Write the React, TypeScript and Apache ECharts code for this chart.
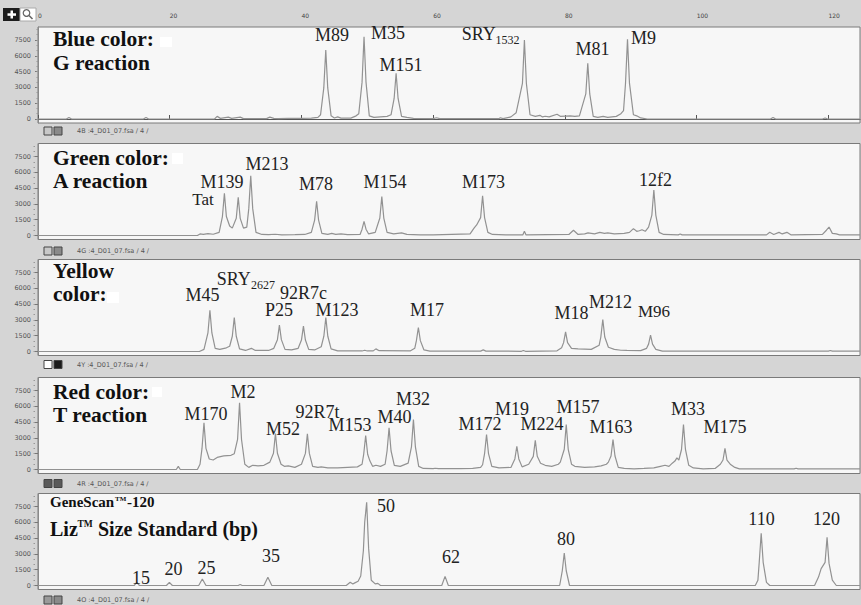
import React, { useEffect, useRef } from "react";
import * as echarts from "echarts";

// ---------- data ----------
const rulerTicks = [0, 20, 40, 60, 80, 100, 120];
const yTicks = [0, 1500, 3000, 4500, 6000, 7500];
const yMinorTicks = [0, 500, 1000, 1500, 2000, 2500, 3000, 3500, 4000, 4500, 5000, 5500, 6000, 6500, 7000, 7500, 8000, 8500];

const blueTrace: number[][] = [
  [0, 0], [4.3, 0], [4.7, 150], [5.1, 0], [16.0, 0], [16.4, 150], [16.8, 0],
  [26.8, 0], [27.2, 250], [27.7, 60], [28.9, 180], [29.4, 60], [30.7, 180], [31.2, 40],
  [34.7, 40], [35.2, 180], [35.8, 60], [36.5, 40], [38, 60], [40, 50], [41.5, 80],
  [42.5, 150], [42.9, 400], [43.39, 2950], [43.69, 6550], [43.99, 2950], [44.5, 300], [45.0, 100], [45.5, 200], [46, 80], [47.5, 80], [48.3, 300],
  [48.7, 500], [49.2, 3500], [49.5, 7800], [49.8, 3500], [50.3, 300], [51, 150], [52, 200], [53, 250], [53.6, 400],
  [54.07, 1950], [54.37, 4340], [54.67, 1950], [55.2, 250], [56, 150], [57, 60], [60, 40], [60.5, 120], [61, 40],
  [70, 40], [70.2, 120], [70.6, 40], [71.8, 200], [72.6, 600],
  [73.55, 3375], [73.85, 7500], [74.15, 3375], [74.7, 400], [75.5, 250], [76.2, 350], [76.6, 200], [77, 260], [77.6, 200], [78.8, 450], [79.3, 250], [80.8, 300], [81.5, 250], [82.2, 300],
  [83.17, 2380], [83.47, 5290], [83.77, 2380], [84.3, 250], [85, 150], [85.8, 250], [86.5, 150], [87.8, 250], [88.5, 500], [88.9, 800],
  [89.2, 3400], [89.5, 7570], [89.8, 3400], [90.4, 400], [90.9, 300], [91.5, 100], [92.5, 0],
  [111.2, 0], [111.6, 150], [112, 0], [119.1, 0], [119.5, 100], [119.9, 0], [124.8, 0],
];

const greenTrace: number[][] = [
  [0, 0], [24.2, 0], [24.6, 150], [25.1, 100], [25.8, 180], [26.6, 120], [27.5, 300],
  [28.0, 1800], [28.3, 4000], [28.6, 1800], [29.1, 900], [29.5, 700],
  [30.1, 1630], [30.4, 3630], [30.7, 1630], [31.2, 700], [31.7, 800],
  [32.0, 2550], [32.3, 5680], [32.6, 2550], [33.1, 300], [34, 100], [35, 80], [36, 120], [37, 60], [39, 80], [40.5, 100], [41.5, 300],
  [42.0, 1460], [42.3, 3250], [42.6, 1460], [43.1, 200], [44, 100], [44.6, 200], [45.2, 100], [46, 150], [47, 80], [48.9, 100],
  [49.2, 600], [49.5, 1350], [49.8, 600], [50.2, 150], [51.2, 300],
  [51.9, 1660], [52.2, 3690], [52.5, 1660], [53.0, 300], [54, 150], [55.2, 250], [56, 100], [58, 60], [60, 60], [65.6, 150], [66.2, 700], [66.6, 1000],
  [67.2, 1700], [67.5, 3780], [67.8, 1700], [68.3, 300], [69, 100], [71, 60], [73.6, 50], [73.85, 400], [74.1, 50],
  [80.6, 100], [81.3, 500], [82, 100], [83, 150], [83.5, 250], [84.5, 150], [85.3, 300], [86, 200], [86.5, 250], [87.5, 150], [89, 200], [89.8, 300], [90.4, 650], [90.9, 400], [91.3, 450], [91.7, 550], [92.2, 400], [92.7, 800],
  [93.2, 1940], [93.5, 4320], [93.8, 1940], [94.3, 300], [95, 100], [97.2, 60], [97.5, 150], [97.8, 60], [110.6, 60], [111.1, 300], [111.7, 100], [112.5, 300], [113.0, 150], [113.7, 300], [114.3, 60],
  [119.1, 100], [119.7, 500], [120.1, 800], [120.6, 200], [121.2, 150], [121.7, 60], [124.8, 60],
];

const yellowTrace: number[][] = [
  [0, 0], [24.5, 0], [25.2, 200],
  [25.8, 1760], [26.1, 3920], [26.4, 1760], [26.9, 300], [27.6, 200], [28.6, 350], [29.1, 500],
  [29.5, 1450], [29.8, 3230], [30.1, 1450], [30.6, 250], [31.5, 100], [32.4, 300], [33, 100], [35, 100], [35.8, 300],
  [36.35, 1125], [36.65, 2500], [36.95, 1125], [37.5, 200], [38.5, 150], [39.5, 300],
  [40.0, 1085], [40.3, 2410], [40.6, 1085], [41.1, 200], [42, 150], [43.0, 450],
  [43.4, 1450], [43.7, 3230], [44.0, 1450], [44.5, 250], [45.5, 60], [49.2, 50], [49.6, 120], [50, 50], [50.9, 60], [51.3, 250], [51.8, 80], [56.5, 50], [57.2, 300],
  [57.45, 1030], [57.75, 2280], [58.05, 1030], [58.6, 150], [59.5, 40], [67.2, 40], [67.6, 150], [68.0, 40], [73.4, 20], [73.7, 100], [74.0, 20],
  [78.8, 60], [79.5, 350], [79.8, 840], [80.1, 1870], [80.4, 840], [81, 300], [82, 250], [84, 200], [85.2, 600],
  [85.45, 1370], [85.75, 3040], [86.05, 1370], [86.6, 400], [87.5, 200], [88.5, 120], [89.4, 100], [91.5, 80], [92.4, 300],
  [92.7, 700], [93.0, 1550], [93.3, 700], [93.8, 200], [94.8, 40], [120, 40], [120.3, 100], [120.6, 40], [124.8, 40],
];

const redTrace: number[][] = [
  [0, 0], [21.0, 0], [21.3, 300], [21.6, 0], [24.2, 0], [24.6, 500],
  [24.9, 2000], [25.2, 4430], [25.5, 2000], [26.0, 1000], [26.6, 900], [27.2, 1150], [28.2, 1300], [29.3, 1350], [29.8, 1500],
  [30.3, 2850], [30.6, 6330], [30.9, 2850], [31.4, 500], [32.0, 200], [32.6, 400], [33.4, 350], [34.3, 400], [35.2, 700],
  [35.75, 1540], [36.05, 3420], [36.35, 1540], [36.9, 500], [37.4, 300], [38, 350], [39, 200], [40.0, 500],
  [40.6, 1530], [40.9, 3390], [41.2, 1530], [41.7, 300], [42.5, 200], [43, 250], [44, 150], [45.5, 150], [47, 200], [48.5, 250], [49.2, 500],
  [49.45, 1450], [49.75, 3230], [50.05, 1450], [50.4, 800], [50.8, 300], [51.3, 400], [52, 300], [52.7, 500],
  [53.0, 1780], [53.3, 3960], [53.6, 1780], [54.1, 400], [55, 300], [56.2, 600],
  [56.7, 2140], [57.0, 4750], [57.3, 2140], [57.8, 300], [58.5, 100], [60, 80], [60.3, 120], [60.8, 80], [64, 80], [66, 100], [67.2, 200], [67.5, 450],
  [67.8, 1500], [68.1, 3320], [68.4, 1500], [68.9, 300], [70, 150], [71.8, 200], [72.4, 1000], [72.7, 2210], [73.0, 1000], [73.5, 250], [74.5, 500],
  [75.2, 1250], [75.5, 2780], [75.8, 1250], [76.3, 600], [77, 400], [78, 300], [79.0, 500], [79.3, 700],
  [79.9, 1920], [80.2, 4270], [80.5, 1920], [81, 500], [81.5, 300], [83, 200], [84.5, 250], [85.5, 350], [86.3, 500], [86.6, 700],
  [87.0, 1280], [87.3, 2850], [87.6, 1280], [88.1, 200], [89, 100], [90.5, 60], [92, 100], [93.5, 150], [94.5, 300], [95.2, 400], [95.8, 300], [96.3, 600], [96.7, 800], [97.0, 1100], [97.3, 900],
  [97.7, 1900], [98.0, 4270], [98.3, 1900], [98.8, 400], [99.5, 150], [101, 60], [102.8, 100], [103.6, 500],
  [104.0, 900], [104.3, 2000], [104.6, 900], [105.1, 500], [105.8, 200], [106.5, 60], [114.8, 60], [115.1, 120], [115.4, 60], [124.8, 60],
];

const sizeStdTrace: number[][] = [
  [0, 0], [14.6, 0], [15.0, 300], [15.4, 0], [19.5, 0], [19.95, 300], [20.4, 0], [24.4, 0], [24.95, 620], [25.5, 0],
  [30.4, 0], [30.7, 100], [31.0, 0], [34.3, 0], [34.9, 780], [35.5, 0],
  [46.8, 0], [47.4, 300], [47.8, 150], [48.1, 250], [48.6, 400], [49.0, 900], [49.4, 3300], [49.6, 6000], [49.9, 7900], [50.2, 3500], [50.6, 500], [51.2, 150], [51.6, 200], [52, 0],
  [61.3, 0], [61.8, 870], [62.3, 0],
  [79.2, 0], [79.6, 1400], [79.9, 3090], [80.2, 1400], [80.7, 0],
  [108.9, 0], [109.3, 500], [109.5, 2200], [109.8, 4960], [110.1, 2200], [110.6, 300], [111.1, 0],
  [117.9, 0], [118.5, 800], [118.9, 1600], [119.5, 2200], [119.8, 4580], [120.1, 2100], [120.6, 500], [121.2, 0], [124.8, 0],
];

const traces = [blueTrace, greenTrace, yellowTrace, redTrace, sizeStdTrace];
const dyeCodes = ["4B", "4G", "4Y", "4R", "4O"];
const sampleFile = "4_D01_07.fsa";

const panelTitles = [
  ["Blue color:", "G reaction"],
  ["Green color:", "A reaction"],
  ["Yellow", "color:"],
  ["Red color:", "T reaction"],
];

// peak labels (text, font size) with their pixel centres
const peakLabels: [string, number, number, number][] = [
  ["M89", 332, 34.5, 18], ["M35", 388, 32.5, 18], ["M151", 401, 65, 18], ["M81", 592.5, 48.5, 18], ["M9", 643.5, 37.5, 18],
  ["M213", 267, 164, 18], ["M139", 222, 181.5, 18], ["Tat", 203, 199.5, 17], ["M78", 316, 183.5, 18], ["M154", 385, 182, 18], ["M173", 483.5, 182, 18], ["12f2", 655.5, 179.5, 18],
  ["M45", 202.5, 295, 18], ["92R7c", 303.5, 292.5, 18], ["P25", 279, 310, 18], ["M123", 337, 310, 18], ["M17", 427, 310, 18], ["M18", 571.5, 313, 18], ["M212", 610.5, 301.5, 18], ["M96", 654, 311.5, 17],
  ["M170", 206, 413.5, 18], ["M2", 243, 391.5, 18], ["M52", 283, 429, 18], ["92R7t", 317.5, 411.5, 18], ["M153", 350, 425, 18], ["M40", 394.5, 416.5, 18], ["M32", 413, 398.5, 18],
  ["M172", 480, 423.5, 18], ["M19", 512, 408.5, 18], ["M224", 542, 423.5, 18], ["M157", 578, 406.5, 18], ["M163", 611, 427, 18], ["M33", 688, 408.5, 18], ["M175", 725, 427, 18],
  ["15", 141, 577.5, 18], ["20", 173.5, 569, 18], ["25", 206.5, 567.5, 18], ["35", 271, 556, 18], ["50", 386, 506, 18], ["62", 451, 557, 18], ["80", 566, 538.5, 18], ["110", 761.5, 519, 18], ["120", 826.5, 519, 18],
];
// subscripted labels: [main, sub, x(left), y, subX, subY]
const subLabels: [string, string, number, number, number, number][] = [
  ["SRY", "1532", 461.7, 34.2, 495.5, 39.5],
  ["SRY", "2627", 216.7, 279, 251, 284.5],
];

// ---------- layout ----------
const PANEL_TOPS = [27, 143.5, 259.5, 377.5, 493.5];
const PANEL_H = 96;
const BASE_OFF = 92;
const PX_PER_RFU = 79 / 7500;
const Y_MAX = BASE_OFF / PX_PER_RFU;
const Y_MIN = -(PANEL_H - BASE_OFF) / PX_PER_RFU;
const X_MAX = 124.8;
const FOOTER_Y = [131, 251, 364.5, 483.5, 600];
const TITLE_Y = [[39, 62.5], [157.5, 181], [271, 294], [391.5, 414.5]];
const WHITE_PATCHES = [[160, 37, 12, 10], [172, 153, 11, 11], [107, 292, 12, 11], [152, 387, 10, 10]];
const ICON_FILLS = [["#c8c8c8", "#8a8a8a"], ["#c8c8c8", "#8a8a8a"], ["#ffffff", "#1a1a1a"], ["#5a5a5a", "#5a5a5a"], ["#9a9a9a", "#8a8a8a"]];

const SERIF = '"Liberation Serif", "Times New Roman", serif';
const SANS = '"DejaVu Sans", sans-serif';

function buildOption() {
  const grid = PANEL_TOPS.map((t) => ({
    left: 38, right: 1, top: t, height: PANEL_H, show: true,
    backgroundColor: "#f7f7f7", borderColor: "#7a7a7a", borderWidth: 1,
  }));
  const xAxis: any[] = PANEL_TOPS.map((_, i) => ({
    type: "value", gridIndex: i, min: 0, max: X_MAX, show: false,
  }));
  xAxis.push({
    type: "value", gridIndex: 0, position: "top", offset: 6, min: 0, max: X_MAX,
    axisLine: { show: true, lineStyle: { color: "#555", width: 1 } },
    axisTick: { show: true, customValues: rulerTicks, length: 4, lineStyle: { color: "#555" } },
    axisLabel: { customValues: rulerTicks, fontSize: 6, color: "#444", align: "left", margin: 3, fontFamily: SANS, formatter: (v: number) => String(v) },
    splitLine: { show: false },
  });
  const yAxis: any[] = [];
  PANEL_TOPS.forEach((_, i) => {
    yAxis.push({
      type: "value", gridIndex: i, position: "left", min: Y_MIN, max: Y_MAX, offset: 3,
      axisLine: { show: true, lineStyle: { color: "#8a8a8a" } },
      axisTick: { show: true, customValues: yTicks, length: 3, lineStyle: { color: "#777" } },
      axisLabel: { customValues: yTicks, fontSize: 6.5, color: "#555", margin: 4, padding: [0, 0, 5, 0], fontFamily: SANS, formatter: (v: number) => String(v) },
      splitLine: { show: false },
    });
    yAxis.push({
      type: "value", gridIndex: i, position: "left", min: Y_MIN, max: Y_MAX, offset: 3,
      axisLine: { show: false },
      axisTick: { show: true, customValues: yMinorTicks, length: 1.5, lineStyle: { color: "#999" } },
      axisLabel: { show: false },
      splitLine: { show: false },
    });
  });
  const series = traces.map((d, i) => ({
    type: "line", xAxisIndex: i, yAxisIndex: 2 * i, data: d,
    showSymbol: false, symbol: "none", silent: true, z: 3,
    lineStyle: { color: "#929292", width: 1.2 },
  }));

  const g: any[] = [];
  // top-left tool icons
  g.push({ type: "rect", shape: { x: 3, y: 8, width: 17, height: 13 }, style: { fill: "#1c1c1c" } });
  g.push({ type: "rect", shape: { x: 10.5, y: 10.5, width: 2.5, height: 8 }, style: { fill: "#fff" } });
  g.push({ type: "rect", shape: { x: 7.5, y: 13.3, width: 8.5, height: 2.5 }, style: { fill: "#fff" } });
  g.push({ type: "rect", shape: { x: 20, y: 8, width: 16, height: 13 }, style: { fill: "#fff", stroke: "#aaa", lineWidth: 1 } });
  g.push({ type: "circle", shape: { cx: 26.5, cy: 13, r: 3.3 }, style: { fill: "none", stroke: "#666", lineWidth: 1.2 } });
  g.push({ type: "line", shape: { x1: 29, y1: 15.5, x2: 32.5, y2: 19 }, style: { stroke: "#666", lineWidth: 1.6 } });

  const bold = (text: string, x: number, y: number, size: number, lh?: number) => ({ type: "text", x, y, z: 10,
    style: { text, fill: "#111", fontSize: size, lineHeight: lh || size, fontWeight: "bold", fontFamily: SERIF, align: "left", verticalAlign: "middle" } });

  // titles
  panelTitles.forEach((lines, i) => {
    lines.forEach((txt, j) => g.push(bold(txt, 53, TITLE_Y[i][j], 21.5, 19)));
  });
  WHITE_PATCHES.forEach(([x, y, w, h]) => g.push({ type: "rect", z: 9, shape: { x, y, width: w, height: h }, style: { fill: "#ffffff" } }));
  // size standard title
  g.push(bold("GeneScan", 50, 502, 15));
  g.push(bold("TM", 115, 498.5, 7));
  g.push(bold("-120", 127, 502, 15));
  g.push(bold("Liz", 50, 528.5, 20, 18));
  g.push(bold("TM", 77.5, 524, 9.5));
  g.push(bold("Size Standard (bp)", 98, 528.5, 20, 18));

  // peak labels
  peakLabels.forEach(([t, x, y, fs]) => g.push({ type: "text", x, y, z: 10,
    style: { text: t, fill: "#222", fontSize: fs, lineHeight: 14, fontFamily: SERIF, align: "center", verticalAlign: "middle" } }));
  subLabels.forEach(([m, s, x, y, sx, sy]) => {
    g.push({ type: "text", x, y, z: 10, style: { text: m, fill: "#222", fontSize: 18, lineHeight: 14, fontFamily: SERIF, align: "left", verticalAlign: "middle" } });
    g.push({ type: "text", x: sx, y: sy, z: 10, style: { text: s, fill: "#222", fontSize: 12, lineHeight: 10, fontFamily: SERIF, align: "left", verticalAlign: "middle" } });
  });

  // footers
  dyeCodes.forEach((code, i) => {
    const fy = FOOTER_Y[i];
    g.push({ type: "rect", shape: { x: 44, y: fy - 4, width: 8, height: 8 }, style: { fill: ICON_FILLS[i][0], stroke: "#444", lineWidth: 1 } });
    g.push({ type: "rect", shape: { x: 54, y: fy - 4, width: 8, height: 8 }, style: { fill: ICON_FILLS[i][1], stroke: "#444", lineWidth: 1 } });
    g.push({ type: "text", x: 77, y: fy, style: { text: `${code} :${sampleFile} / 4 /`, fill: "#555", fontSize: 6.5, fontFamily: SANS, align: "left", verticalAlign: "middle" } });
  });

  return {
    animation: false,
    backgroundColor: "#d5d5d5",
    grid, xAxis, yAxis, series, graphic: g,
  };
}

export default function App() {
  const ref = useRef<HTMLDivElement>(null);
  useEffect(() => {
    if (!ref.current) return;
    const chart = echarts.init(ref.current, null, { renderer: "svg" });
    chart.setOption(buildOption() as any);
    return () => chart.dispose();
  }, []);
  return <div ref={ref} style={{ position: "fixed", left: 0, top: 0, width: 861, height: 605 }} />;
}
